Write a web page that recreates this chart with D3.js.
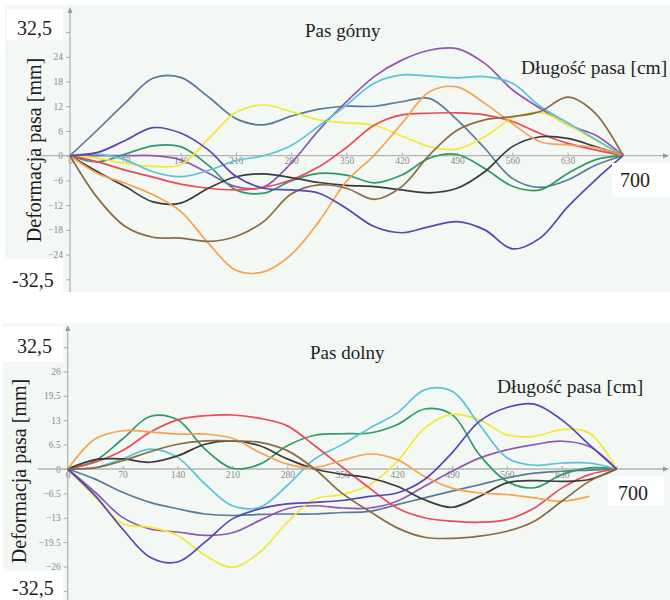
<!DOCTYPE html>
<html>
<head>
<meta charset="utf-8">
<script src="https://cdn.jsdelivr.net/npm/d3@7"></script>
<style>
  body { margin: 0; background: #fff; }
  svg { display: block; }
  .lbl { font-family: "Liberation Serif", "Times New Roman", serif; fill: #1e1e1e; }
  .tick text { font-family: "Liberation Serif", serif; font-size: 9.5px; fill: #8a8a8a; }
  .tick line { stroke: #a8a8a8; }
  .series { fill: none; stroke-width: 1.7; }
</style>
</head>
<body>
<svg width="670" height="600"></svg>
<script>
// dlugosc pasa [cm]
var lengthCm = [0, 35, 70, 105, 140, 175, 210, 245, 280, 315, 350, 385, 420, 455, 490, 525, 560, 595, 630, 665, 700];
var xTicks = [0, 70, 140, 210, 280, 350, 420, 490, 560, 630, 700];
var topYTicks = [-30, -24, -18, -12, -6, 0, 6, 12, 18, 24, 30];
var bottomYTicks = [-32.5, -26, -19.5, -13, -6.5, 0, 6.5, 13, 19.5, 26, 32.5];

// Pas gorny, deformacja [mm]
var topSlate  = [0, 6.3, 12.8, 18.8, 19.0, 14.3, 9.0, 7.5, 9.6, 11.3, 12.0, 12.0, 13.1, 13.9, 8.7, 1.8, -5.5, -7.7, -5.9, -2.3, 0];
var topPurple = [0, 0, 0, 0, -1.0, -4.2, -7.5, -7.6, -1.8, 6.2, 13.1, 19.2, 23.2, 25.6, 26.0, 22.4, 16.0, 11.5, 7.5, 5.0, 0];
var topGreen  = [0, -1.5, 0.4, 2.4, 2.2, -2.3, -8.3, -9.1, -6.1, -4.3, -4.7, -6.6, -4.7, -0.6, 0.3, -3.1, -7.4, -8.3, -4.3, -1.0, 0];
var topYellow = [0, -0.6, -1.9, -2.6, -2.2, 4.0, 10.5, 12.3, 10.7, 8.7, 8.0, 7.4, 4.8, 2.2, 1.6, 4.6, 9.1, 10.5, 7.5, 3.8, 0];
var topCyan   = [0, 0.4, -1.0, -3.9, -5.1, -3.6, -1.2, 0.0, 2.5, 7.2, 12.3, 17.6, 19.6, 19.3, 18.9, 19.2, 17.6, 12.0, 8.0, 4.0, 0];
var topRed    = [0, -1.5, -3.5, -5.2, -6.9, -7.9, -8.3, -7.7, -5.9, -2.7, 2.0, 7.4, 9.9, 10.3, 10.4, 9.9, 8.3, 5.4, 3.0, 1.4, 0];
var topBlack  = [0, -3.9, -7.5, -11.2, -11.5, -7.9, -5.1, -4.4, -5.3, -6.5, -7.2, -7.5, -8.3, -9.0, -7.9, -3.9, 2.2, 4.6, 4.2, 2.2, 0];
var topOrange = [0, -4.3, -6.7, -9.5, -13.5, -21.2, -27.8, -28.2, -24.0, -16.0, -6.2, 0.1, 7.8, 15.5, 16.7, 12.7, 7.8, 3.4, 2.6, 2.0, 0];
var topBrown  = [0, -10.3, -17.2, -19.8, -20.0, -20.8, -19.6, -16.0, -9.3, -7.1, -7.9, -10.6, -7.5, 0.2, 6.2, 8.7, 9.5, 10.7, 14.2, 10.3, 0];
var topIndigo = [0, 0.8, 3.7, 6.8, 5.5, 1.4, -5.0, -7.9, -8.3, -9.1, -12.8, -17.2, -18.7, -17.2, -16.0, -18.0, -22.6, -20.0, -12.4, -5.9, 0];

// Pas dolny, deformacja [mm]
var bottomSlate  = [0, -2.7, -6.2, -8.9, -10.6, -12.0, -12.4, -12.1, -12.0, -12.0, -11.6, -11.3, -9.5, -7.7, -5.9, -4.2, -2.4, -1.1, -0.6, -0.3, 0];
var bottomPurple = [0, -6.2, -12.9, -16.0, -16.8, -17.7, -17.0, -13.7, -10.6, -9.8, -10.4, -10.4, -8.6, -4.6, -0.6, 2.9, 5.1, 6.5, 7.4, 6.0, 0];
var bottomGreen  = [0, 2.2, 8.0, 14.0, 13.1, 5.3, 0.2, 1.3, 6.2, 9.0, 9.4, 9.6, 11.8, 16.0, 14.5, 3.8, -3.3, -5.0, -1.5, 0.3, 0];
var bottomYellow = [0, -7.5, -14.6, -15.5, -17.7, -23.0, -26.2, -22.2, -14.2, -8.0, -6.8, -4.2, 2.0, 10.9, 14.6, 13.1, 9.1, 8.7, 10.5, 9.6, 0];
var bottomCyan   = [0, 0.4, 2.7, 5.3, 3.1, -4.0, -9.8, -10.2, -4.4, 2.7, 6.5, 10.9, 14.9, 21.1, 20.7, 11.8, 3.0, 1.0, 1.6, 1.6, 0];
var bottomRed    = [0, 1.8, 4.9, 9.8, 13.1, 14.2, 14.4, 13.5, 11.5, 6.2, 0.5, -5.1, -10.4, -13.0, -13.9, -14.2, -13.5, -10.4, -5.1, -1.5, 0];
var bottomBlack  = [0, 2.5, 2.7, 1.8, 3.5, 6.6, 7.5, 6.2, 2.7, 0.0, -1.4, -2.4, -4.6, -8.2, -10.2, -7.3, -3.7, -3.1, -3.3, -2.8, 0];
var bottomOrange = [0, 8.0, 10.2, 9.9, 9.3, 9.3, 8.2, 4.4, 1.3, 0.4, 2.3, 4.0, 2.5, -2.0, -5.1, -6.4, -6.8, -7.7, -8.6, -7.3, null];
var bottomBrown  = [0, 0.3, 2.2, 4.6, 6.6, 7.5, 7.5, 7.1, 4.9, 0.0, -6.5, -11.3, -15.7, -18.2, -18.5, -17.9, -16.6, -13.9, -8.6, -3.3, 0];
var bottomIndigo = [0, -7.1, -16.0, -23.5, -24.8, -19.5, -13.3, -10.6, -9.3, -8.9, -8.4, -7.3, -6.4, -2.8, 4.3, 12.7, 16.4, 17.3, 13.1, 6.5, 0];

var colors = {
  slate: "#5a7a99", purple: "#9257b2", green: "#2f9a6c", yellow: "#f4e833", cyan: "#58c4d6",
  red: "#ec4a5a", black: "#3b3b3b", orange: "#f7a24f", brown: "#8b6b44", indigo: "#5548b2"
};

var panels = [
  {
    title: "Pas górny", yTicks: topYTicks,
    series: [
      ["slate", topSlate], ["purple", topPurple], ["green", topGreen], ["yellow", topYellow], ["cyan", topCyan],
      ["red", topRed], ["black", topBlack], ["orange", topOrange], ["brown", topBrown], ["indigo", topIndigo]
    ],
    bg: [5, 5, 665, 287], x: [70, 623], y: [289.6, 21.8], axisTop: 7,
    titlePos: [305, 37], xTitlePos: [521, 74], yTitlePos: [41, 150],
    boxTop: [7, 9, 56, 31, 17, 35], boxBottom: [0, 259, 63, 33, 12, 287], box700: [612, 163, 58, 34, 620, 187]
  },
  {
    title: "Pas dolny", yTicks: bottomYTicks,
    series: [
      ["slate", bottomSlate], ["purple", bottomPurple], ["green", bottomGreen], ["yellow", bottomYellow], ["cyan", bottomCyan],
      ["red", bottomRed], ["black", bottomBlack], ["orange", bottomOrange], ["brown", bottomBrown], ["indigo", bottomIndigo]
    ],
    bg: [3, 323, 667, 277], x: [67.7, 616.7], y: [590.9, 347.1], axisTop: 325,
    titlePos: [310, 359], xTitlePos: [497, 393], yTitlePos: [26, 471],
    boxTop: [3, 327, 60, 35, 17, 353], boxBottom: [3, 571, 60, 29, 12, 595], box700: [608, 476, 56, 30, 618, 500]
  }
];

var svg = d3.select("svg");

panels.forEach(function(p) {
  var g = svg.append("g");
  var x = d3.scaleLinear().domain([0, 700]).range(p.x);
  var y = d3.scaleLinear().domain([-32.5, 32.5]).range(p.y);
  var bottomEdge = p.bg[1] + p.bg[3];
  var yEnds = d3.extent(p.yTicks);

  g.append("rect")
    .attr("x", p.bg[0]).attr("y", p.bg[1])
    .attr("width", p.bg[2]).attr("height", p.bg[3])
    .attr("fill", "#f3f8f4");

  // axes (end labels sit under the white boxes, so they are left blank)
  g.append("g")
    .attr("transform", "translate(" + p.x[0] + ",0)")
    .call(d3.axisLeft(y).tickValues(p.yTicks).tickSize(4).tickPadding(3)
      .tickFormat(function(d) {
        if (d == yEnds[0] || d == yEnds[1]) return "";
        return d3.format("")(d).replace("-", "\u2212");
      }))
    .call(function(a) { a.select(".domain").remove(); });

  g.append("g")
    .attr("transform", "translate(0," + y(0) + ")")
    .call(d3.axisBottom(x).tickValues(xTicks).tickSizeInner(-3).tickSizeOuter(0).tickPadding(2)
      .tickFormat(function(d) { return d == 700 ? "" : d; }))
    .call(function(a) { a.select(".domain").remove(); });

  g.append("line")
    .attr("x1", 38).attr("x2", 667).attr("y1", y(0)).attr("y2", y(0))
    .attr("stroke", "#b4b4b4").attr("stroke-width", 1.3);
  g.append("line")
    .attr("x1", p.x[0]).attr("x2", p.x[0]).attr("y1", p.axisTop + 4).attr("y2", bottomEdge)
    .attr("stroke", "#b4b4b4").attr("stroke-width", 1.3);
  g.append("path")
    .attr("d", "M" + p.x[0] + "," + p.axisTop + "l-2.5,6h5z")
    .attr("fill", "#9a9a9a");
  g.append("path")
    .attr("d", "M669," + y(0) + "l-6,-2.5v5z")
    .attr("fill", "#9a9a9a");

  // curves
  var line = d3.line()
    .defined(function(d) { return d != null; })
    .x(function(d, i) { return x(lengthCm[i]); })
    .y(function(d) { return y(d); })
    .curve(d3.curveCatmullRom.alpha(0.5));

  g.selectAll("path.series")
    .data(p.series)
    .enter()
    .append("path")
    .classed("series", true)
    .attr("stroke", function(d) { return colors[d[0]]; })
    .attr("d", function(d) { return line(d[1]); });

  // labels
  g.append("text").classed("lbl", true)
    .attr("x", p.titlePos[0]).attr("y", p.titlePos[1])
    .attr("font-size", 19).text(p.title);
  g.append("text").classed("lbl", true)
    .attr("x", p.xTitlePos[0]).attr("y", p.xTitlePos[1])
    .attr("font-size", 19.5).text("Długość pasa [cm]");
  g.append("text").classed("lbl", true)
    .attr("transform", "translate(" + p.yTitlePos[0] + "," + p.yTitlePos[1] + ") rotate(-90)")
    .attr("text-anchor", "middle")
    .attr("font-size", 20).text("Deformacja pasa [mm]");

  [[p.boxTop, "32,5"], [p.boxBottom, "-32,5"], [p.box700, "700"]].forEach(function(b) {
    g.append("rect")
      .attr("x", b[0][0]).attr("y", b[0][1])
      .attr("width", b[0][2]).attr("height", b[0][3])
      .attr("fill", "#fff");
    g.append("text").classed("lbl", true)
      .attr("x", b[0][4]).attr("y", b[0][5])
      .attr("font-size", 20).text(b[1]);
  });
});
</script>
</body>
</html>
